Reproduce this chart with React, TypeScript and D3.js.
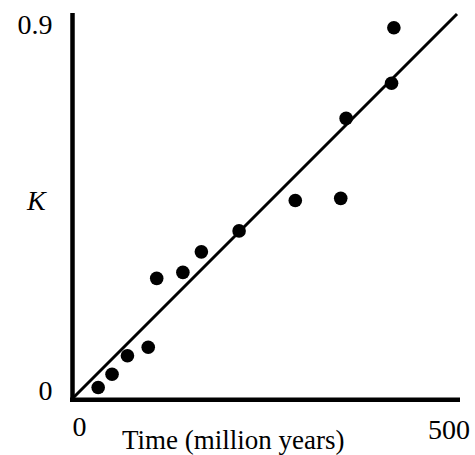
import React from 'react';
import * as d3 from 'd3';

// Points
const timeValues = [34, 52, 72, 99, 110, 144, 168, 217, 290, 349, 356, 415, 418];
const kValues = [0.027, 0.058, 0.101, 0.121, 0.282, 0.296, 0.344, 0.393, 0.464, 0.469, 0.656, 0.738, 0.868];
// Fitted line end points
const fitTime = [0, 500];
const fitK = [0, 0.9];
const yTicks = [0, 0.9];
const xTicks = [0, 500];

const width = 475;
const height = 455;
const font = "'Liberation Serif', serif";

const App = () => {
  const xScale = d3.scaleLinear().domain([0, 500]).range([72, 457]);
  const yScale = d3.scaleLinear().domain([0, 0.9]).range([399, 14]);

  const points = timeValues.map((t, i) => ({ t, k: kValues[i] }));
  const fit = fitTime.map((t, i) => ({ t, k: fitK[i] }));

  const lineFn = d3
    .line<{ t: number; k: number }>()
    .x((d) => xScale(d.t))
    .y((d) => yScale(d.k));

  // label nudges so the ticks sit like the reference
  const yLabelY = (v: number) => (v === 0 ? yScale(v) + 1 : yScale(v) + 20);
  const xLabel = (v: number) =>
    v === 0
      ? { x: xScale(v) + 0.5, anchor: 'start', y: 436 }
      : { x: xScale(v) + 13, anchor: 'end', y: 439 };

  return (
    <svg
      width={width}
      height={height}
      style={{ position: 'absolute', left: 0, top: 0, background: '#fff', fontFamily: font }}
    >
      {/* axes */}
      <line x1={72.5} x2={72.5} y1={13} y2={402} stroke="#000" strokeWidth={4.5} />
      <line x1={70} x2={460} y1={399.7} y2={399.7} stroke="#000" strokeWidth={4.5} />

      {/* fitted line */}
      <path d={lineFn(fit) || ''} fill="none" stroke="#000" strokeWidth={3} />

      {/* points */}
      {points.map((d, i) => (
        <circle key={i} cx={xScale(d.t)} cy={yScale(d.k)} r={6.8} fill="#000" />
      ))}

      {/* y tick labels */}
      {yTicks.map((v) => (
        <text key={'y' + v} x={52.5} y={yLabelY(v)} textAnchor="end" fontSize={28}>
          {v === 0 ? '0' : String(v)}
        </text>
      ))}
      <text x={27} y={210} fontSize={28} fontStyle="italic">
        K
      </text>

      {/* x tick labels */}
      {xTicks.map((v) => {
        const l = xLabel(v);
        return (
          <text key={'x' + v} x={l.x} y={l.y} textAnchor={l.anchor} fontSize={28}>
            {v}
          </text>
        );
      })}
      <text x={122} y={449} fontSize={27}>
        Time (million years)
      </text>
    </svg>
  );
};

export default App;
